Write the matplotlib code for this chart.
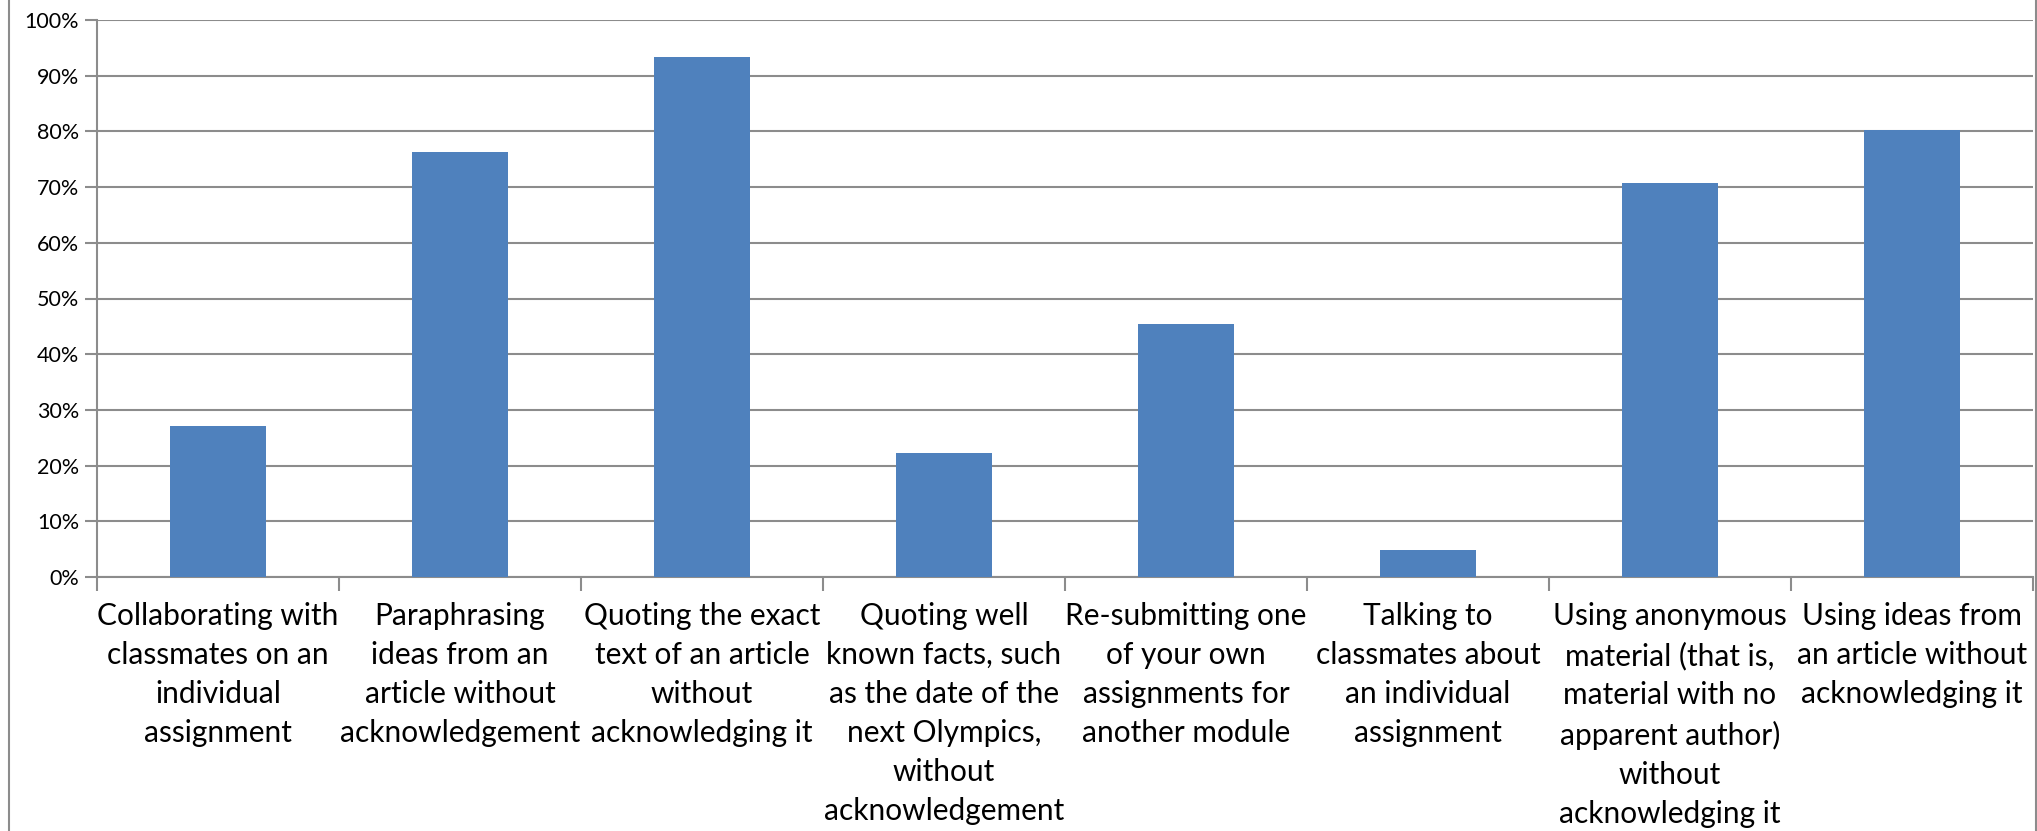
import matplotlib
matplotlib.use("Agg")
import matplotlib.pyplot as plt
from matplotlib.lines import Line2D
from matplotlib.ticker import FuncFormatter

categories = [
    "Collaborating with\nclassmates on an\nindividual\nassignment",
    "Paraphrasing\nideas from an\narticle without\nacknowledgement",
    "Quoting the exact\ntext of an article\nwithout\nacknowledging it",
    "Quoting well\nknown facts, such\nas the date of the\nnext Olympics,\nwithout\nacknowledgement",
    "Re-submitting one\nof your own\nassignments for\nanother module",
    "Talking to\nclassmates about\nan individual\nassignment",
    "Using anonymous\nmaterial (that is,\nmaterial with no\napparent author)\nwithout\nacknowledging it",
    "Using ideas from\nan article without\nacknowledging it",
]
values = [0.271, 0.763, 0.933, 0.222, 0.455, 0.049, 0.707, 0.802]
ytick_values = [i / 10 for i in range(11)]

plt.rcParams['font.family'] = ['Lato', 'DejaVu Sans']

fig = plt.figure(figsize=(20.37, 8.31), dpi=100)
ax = fig.add_axes([97 / 2037, 1 - 577 / 831, (2033 - 97) / 2037, (577 - 20) / 831])

grid_c = '#8c8c8c'
x = list(range(len(categories)))
ax.bar(x, values, width=0.4, color='#4f81bd', zorder=3)
ax.set_xlim(-0.5, len(categories) - 0.5)
ax.set_ylim(0, 1)
ax.set_yticks(ytick_values)
ax.yaxis.set_major_formatter(FuncFormatter(lambda v, p: f"{int(round(v * 100))}%"))
ax.yaxis.grid(True, color=grid_c, linewidth=1.5, zorder=0)
ax.set_axisbelow(True)

ax.set_xticks(x)
ax.set_xticklabels(categories, fontsize=21.5, linespacing=1.48, va='top', ha='center')
ax.set_xticks([i - 0.5 for i in range(len(categories) + 1)], minor=True)
ax.tick_params(axis='x', which='major', length=0, pad=18)
ax.tick_params(axis='x', which='minor', length=10, width=1.5, color=grid_c)
ax.tick_params(axis='y', length=9, width=1.5, color=grid_c, labelsize=15.5, pad=4)

for s in ['top', 'right']:
    ax.spines[s].set_visible(False)
for s in ['left', 'bottom']:
    ax.spines[s].set_color(grid_c)
    ax.spines[s].set_linewidth(1.5)

# outer chart border (left and right edges visible)
fig.add_artist(Line2D([8.5 / 2037, 8.5 / 2037], [0, 1], color='#8c8c8c', linewidth=1.5, transform=fig.transFigure))
fig.add_artist(Line2D([2035.5 / 2037, 2035.5 / 2037], [0, 1], color='#8c8c8c', linewidth=1.5, transform=fig.transFigure))

fig.savefig('out.png', dpi=100)
